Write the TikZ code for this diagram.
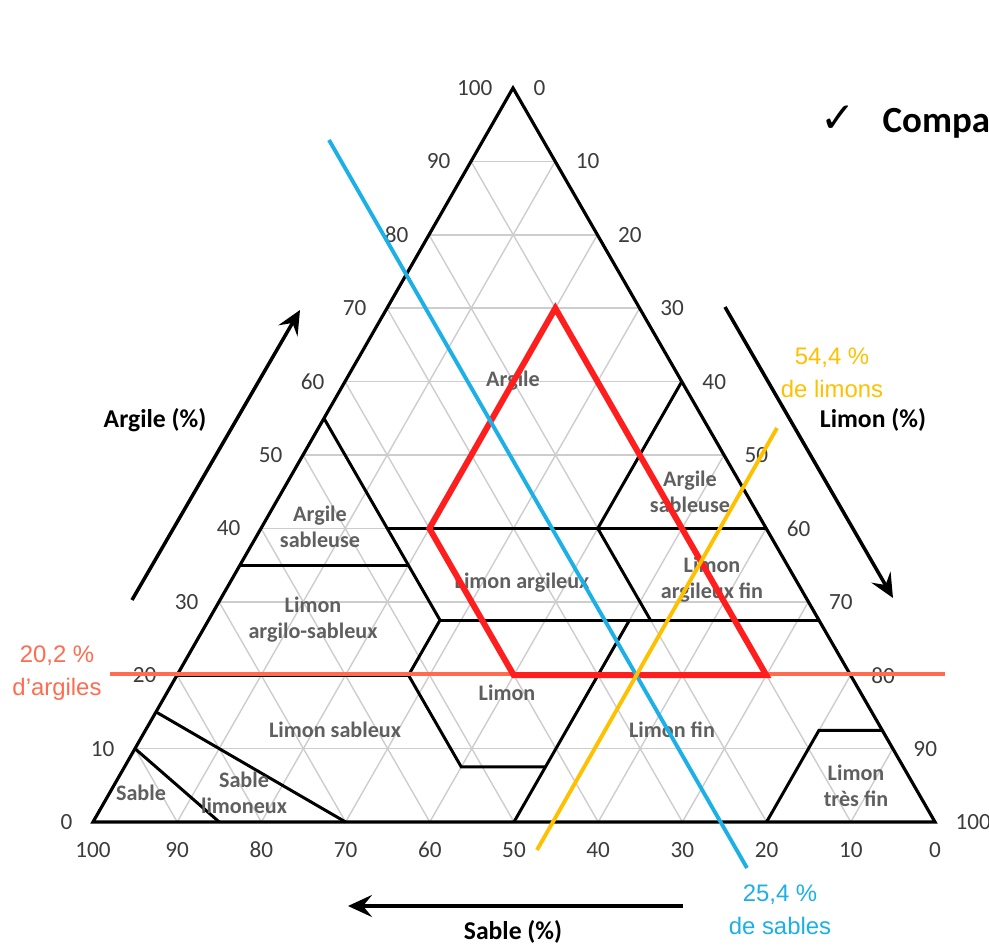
\documentclass[tikz,border=0pt]{standalone}
\usepackage{fontspec}
\setmainfont{Carlito}
\newfontfamily\notefont{Liberation Sans}
\newfontfamily\symbfont{DejaVu Sans}
\usetikzlibrary{calc,arrows.meta}

\definecolor{argcol}{RGB}{255,108,80}
\definecolor{sabcol}{RGB}{28,176,230}
\definecolor{limcol}{RGB}{255,192,0}
\definecolor{zonecol}{RGB}{255,30,30}
\definecolor{labgray}{RGB}{95,95,95}
\definecolor{tickgray}{RGB}{60,60,60}
\definecolor{gridgray}{RGB}{205,205,205}

\begin{document}
\begin{tikzpicture}[
  >={Stealth[length=2.4mm,width=2.2mm,inset=0.9mm]},
  gridline/.style={gridgray, line width=0.4pt},
  triedge/.style={black, line width=0.9pt},
  zoneline/.style={black, line width=0.85pt},
  ticklabel/.style={tickgray, inner sep=0pt, font=\fontsize{6.6}{7}\selectfont},
  zonelabel/.style={labgray, align=center, font=\fontsize{6.3}{7.4}\selectfont\bfseries},
  axtitle/.style={font=\fontsize{7.3}{8}\selectfont\bfseries},
  axarrow/.style={line width=1pt, ->},
  notelabel/.style={align=center, font=\notefont\fontsize{6.8}{9.4}\selectfont},
  ]
\useasboundingbox (0,0) rectangle (9.89,9.46);

% corners: sable, limon, argile
\coordinate (Sa) at (0.93,1.24);
\coordinate (Si) at (9.35,1.24);
\coordinate (Cl) at (5.13,8.58);

% grid every 10 %
\foreach \i in {1,...,9} {
  \draw[gridline] ($(Sa)!\i/10!(Cl)$) -- ($(Si)!\i/10!(Cl)$);
  \draw[gridline] ($(Si)!\i/10!(Sa)$) -- ($(Cl)!\i/10!(Sa)$);
  \draw[gridline] ($(Sa)!\i/10!(Si)$) -- ($(Cl)!\i/10!(Si)$);
}

% zone corners, weights in tens of %
\coordinate (as1) at (barycentric cs:Cl=5.5,Sa=4.5,Si=0);
\coordinate (as2) at (barycentric cs:Cl=4,Sa=4.5,Si=1.5);
\coordinate (as3) at (barycentric cs:Cl=2.75,Sa=4.5,Si=2.75);
\coordinate (as4) at (barycentric cs:Cl=3.5,Sa=6.5,Si=0);
\coordinate (as5) at (barycentric cs:Cl=3.5,Sa=4.5,Si=2);
\coordinate (ar1) at (barycentric cs:Cl=4,Sa=0,Si=6);
\coordinate (ar2) at (barycentric cs:Cl=6,Sa=0,Si=4);
\coordinate (ar3) at (barycentric cs:Cl=4,Sa=2,Si=4);
\coordinate (ar4) at (barycentric cs:Cl=2.75,Sa=2,Si=5.25);
\coordinate (lf1) at (barycentric cs:Cl=2.75,Sa=0,Si=7.25);
\coordinate (lf2) at (barycentric cs:Cl=2.75,Sa=2.25,Si=5);
\coordinate (lf3) at (barycentric cs:Cl=0,Sa=5,Si=5);
\coordinate (lf4) at (barycentric cs:Cl=0.75,Sa=4.25,Si=5);
\coordinate (li1) at (barycentric cs:Cl=2,Sa=5.25,Si=2.75);
\coordinate (li2) at (barycentric cs:Cl=0.75,Sa=5.25,Si=4);
\coordinate (ls1) at (barycentric cs:Cl=2,Sa=8,Si=0);
\coordinate (tf1) at (barycentric cs:Cl=0,Sa=2,Si=8);
\coordinate (tf2) at (barycentric cs:Cl=1.25,Sa=0.75,Si=8);
\coordinate (tf3) at (barycentric cs:Cl=1.25,Sa=0,Si=8.75);
\coordinate (sl1) at (barycentric cs:Cl=1.5,Sa=8.5,Si=0);
\coordinate (sl2) at (barycentric cs:Cl=0,Sa=7,Si=3);
\coordinate (sb1) at (barycentric cs:Cl=1,Sa=9,Si=0);
\coordinate (sb2) at (barycentric cs:Cl=0,Sa=8.5,Si=1.5);

\draw[zoneline] (as1) -- (as2) -- (as3) -- (li1) -- (li2) -- (lf4);
\draw[zoneline] (as4) -- (as5);
\draw[zoneline] (as2) -- (ar1);
\draw[zoneline] (ar2) -- (ar3) -- (ar4);
\draw[zoneline] (as3) -- (lf1);
\draw[zoneline] (lf2) -- (lf3);
\draw[zoneline] (ls1) -- (li1);
\draw[zoneline] (tf1) -- (tf2) -- (tf3);
\draw[zoneline] (sl1) -- (sl2);
\draw[zoneline] (sb1) -- (sb2);

\draw[triedge] (Sa) -- (Si) -- (Cl) -- cycle;

% graduations
\foreach \i [evaluate=\i as \v using int(10*\i), evaluate=\i as \w using int(100-10*\i)] in {0,...,10} {
  \node[ticklabel, anchor=east] (cl\i) at ($(Sa)!\i/10!(Cl)+(-0.2,0)$) {\v};
  \node[ticklabel, anchor=west] (si\i) at ($(Cl)!\i/10!(Si)+(0.2,0)$) {\v};
  \node[ticklabel] (sa\i) at ($(Sa)!\i/10!(Si)+(0,-0.28)$) {\w};
}

% classes
\node[zonelabel] (argile) at (5.13,5.65) {Argile};
\node[zonelabel] (argsab1) at (3.20,4.19) {Argile\\sableuse};
\node[zonelabel] (limargsab) at (3.13,3.26) {Limon\\argilo-sableux};
\node[zonelabel] (limarg) at (5.22,3.63) {Limon argileux};
\node[zonelabel] (argsab2) at (6.90,4.54) {Argile\\sableuse};
\node[zonelabel] (limargfin) at (7.12,3.66) {Limon\\argileux fin};
\node[zonelabel] (limon) at (5.07,2.53) {Limon};
\node[zonelabel] (limsab) at (3.35,2.16) {Limon sableux};
\node[zonelabel] (limfin) at (6.72,2.16) {Limon fin};
\node[zonelabel] (sable) at (1.41,1.53) {Sable};
\node[zonelabel] (sablim) at (2.44,1.53) {Sable\\limoneux};
\node[zonelabel] (limtfin) at (8.56,1.60) {Limon\\très fin};

% axes
\node[axtitle] (tclay) at (1.55,5.26) {Argile (\%)};
\node[axtitle] (tsilt) at (8.73,5.26) {Limon (\%)};
\node[axtitle] (tsand) at (5.13,0.14) {Sable (\%)};
\draw[axarrow] (1.32,3.46) -- (3.00,6.36);
\draw[axarrow] (7.25,6.39) -- (8.93,3.48);
\draw[axarrow] (6.83,0.40) -- (3.48,0.40);

% sample point
\coordinate (r1) at (barycentric cs:Cl=7,Sa=1,Si=2);
\coordinate (r2) at (barycentric cs:Cl=4,Sa=4,Si=2);
\coordinate (r3) at (barycentric cs:Cl=2,Sa=4,Si=4);
\coordinate (r4) at (barycentric cs:Cl=2,Sa=1,Si=7);
\draw[argcol, line width=1.2pt] (1.10,2.723) -- (9.45,2.723);
\draw[zonecol, line width=1.7pt, line join=miter] (r1) -- (r2) -- (r3) -- (r4) -- cycle;
\draw[sabcol, line width=1.1pt] (3.29,8.06) -- (7.47,0.78);
\draw[limcol, line width=1.1pt] (5.37,0.96) -- (7.77,5.18);

\node[notelabel, argcol] (nclay) at (0.57,2.73) {20,2 \%\\d’argiles};
\node[notelabel, limcol] (nsilt) at (8.32,5.73) {54,4 \%\\de limons};
\node[notelabel, sabcol] (nsand) at (7.80,0.36) {25,4 \%\\de sables};

\node[font=\symbfont\fontsize{12}{13}\selectfont] (check) at (8.38,8.27) {✓};
\node[font=\fontsize{10.5}{11}\selectfont\bfseries, anchor=west, inner sep=0pt] (compa) at (8.82,8.23) {Compa};
\end{tikzpicture}
\end{document}
